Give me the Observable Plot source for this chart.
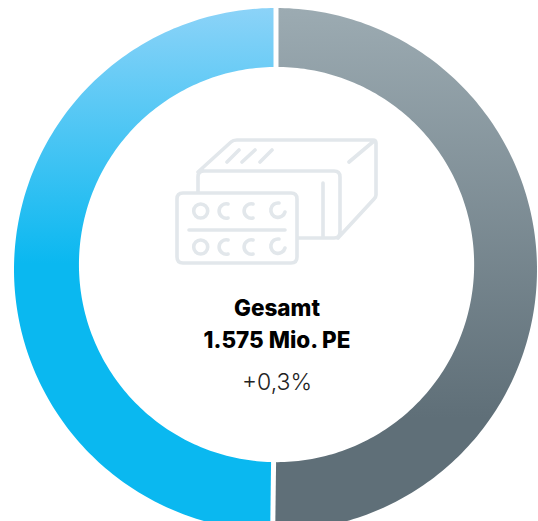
<!DOCTYPE html>
<html><head><meta charset="utf-8">
<style>html,body{margin:0;padding:0;background:#fff}svg{display:block}</style>
<script src="https://cdn.jsdelivr.net/npm/d3@7"></script>
<script src="https://cdn.jsdelivr.net/npm/@observablehq/plot@0.6"></script>
</head><body><script>
const categories = ["Rechts", "Links"];
const shares = [50.2, 49.8];
const labels = ["Gesamt", "1.575 Mio. PE", "+0,3%"];

const innerRadius = 197.6 / 261.5;
const innerShift = [0.004, 0.019];
const cumulative = d3.cumsum(shares);
const total = d3.sum(shares);
const polar = (a, r) => [r * Math.sin(a), r * Math.cos(a)];
const inner = a => { const [x, y] = polar(a, innerRadius); return [x + innerShift[0], y + innerShift[1]]; };
function band(i) {
  const start = (i ? cumulative[i - 1] : 0) / total * 2 * Math.PI;
  const end = cumulative[i] / total * 2 * Math.PI;
  return d3.range(0, 1.0001, 1 / 180).map(t => {
    const a = start + (end - start) * t;
    const [x1, y1] = inner(a);
    const [x2, y2] = polar(a, 1);
    return {x1, y1, x2, y2};
  });
}
const seps = [0, ...cumulative.slice(0, -1)].map(c => {
  const a = c / total * 2 * Math.PI;
  const [x1, y1] = polar(a, innerRadius - 0.04);
  const [x2, y2] = polar(a, 1.04);
  return {x1, y1, x2, y2};
});
function gradient(id, stops) {
  const g = d3.create("svg:linearGradient").attr("id", id).attr("gradientUnits", "userSpaceOnUse")
    .attr("x1", 0).attr("x2", 0).attr("y1", 7).attr("y2", 521);
  for (const [o, c] of stops) g.append("stop").attr("offset", o).attr("stop-color", c);
  return g.node();
}
const defs = () => {
  const d = d3.create("svg:defs");
  d.append(() => gradient("gr", [[0, "#9cabb2"], [0.8, "#5f6f78"], [1, "#5f6f78"]]));
  d.append(() => gradient("gb", [[0, "#8cd3f8"], [0.5, "#0ab8f0"], [1, "#0ab8f0"]]));
  return d.node();
};
const icon = () => {
  const g = d3.create("svg:g").attr("fill", "none").attr("stroke", "#e2e7eb").attr("stroke-width", 3.6)
    .attr("stroke-linecap", "round").attr("stroke-linejoin", "round");
  g.append("path").attr("d", [
    "M198 192V177Q198 171 204 171H334Q340 171 340 177V232Q340 238 334 238H298",
    "M198 172L231 142Q233 140 237 140H373Q376 140 376 143V195Q376 197 374 199L338 238",
    "M374 141L349 162",
    "M227 162L239 150M242 162L255 150M260 162L272 150",
    "M323 183V238",
    "M183 193H291Q297 193 297 199V257Q297 263 291 263H183Q177 263 177 257V199Q177 193 183 193Z",
    "M189 230H285"
  ].join(" "));
  for (const cy of [211, 247]) {
    g.append("circle").attr("cx", 200.7).attr("cy", cy).attr("r", 7);
    for (const cx of [228, 253]) g.append("path").attr("d", `M${cx} ${cy - 7}A7.2 7.2 0 1 0 ${cx} ${cy + 7}`);
    g.append("path").attr("d", `M279 ${cy - 8}A7.2 7.2 0 1 0 285 ${cy + 1}`);
  }
  return g.node();
};
const font = "Inter";
const plot = Plot.plot({
  width: 538, height: 521, margin: 0,
  x: {domain: [-1, 1], range: [14, 537], axis: null},
  y: {domain: [-1, 1], range: [531, 8], axis: null},
  marks: [
    defs,
    Plot.area(band(0), {x1: "x1", y1: "y1", x2: "x2", y2: "y2", fill: "url(#gr)", curve: "linear"}),
    Plot.area(band(1), {x1: "x1", y1: "y1", x2: "x2", y2: "y2", fill: "url(#gb)", curve: "linear"}),
    Plot.link(seps, {x1: "x1", y1: "y1", x2: "x2", y2: "y2", stroke: "#fff", strokeWidth: 5}),
    icon,
    Plot.text([labels[0]], {x: 0.004, y: -0.15, text: d => d, fontSize: 22.5, fontWeight: 800, fontFamily: font, fill: "#000"}),
    Plot.text([labels[1]], {x: 0.004, y: -0.27, text: d => d, fontSize: 22.5, fontWeight: 800, fontFamily: font, fill: "#000"}),
    Plot.text([labels[2]], {x: 0.004, y: -0.43, text: d => d, fontSize: 23, fontWeight: 300, fontFamily: font, fill: "#222"})
  ]
});
document.body.append(plot);
</script></body></html>
